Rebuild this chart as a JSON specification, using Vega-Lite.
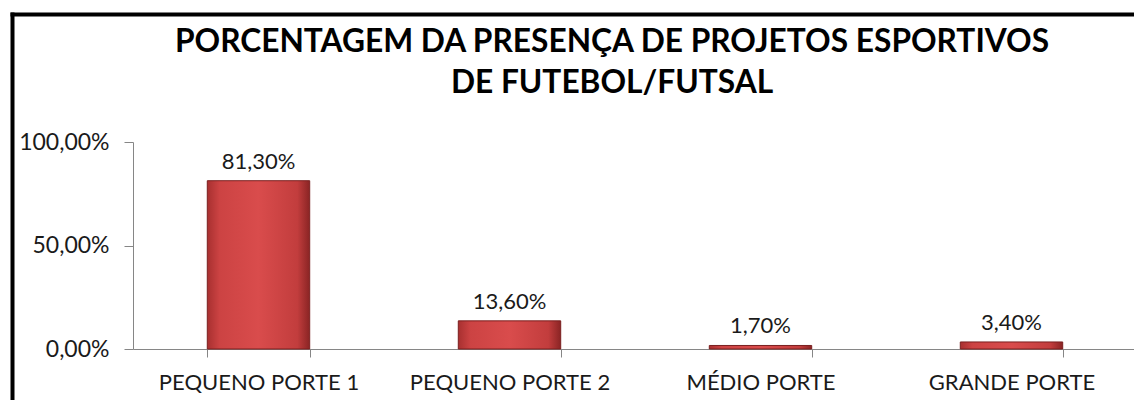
{
  "$schema": "https://vega.github.io/schema/vega-lite/v6.json",
  "autosize": "none",
  "width": 1122,
  "height": 386,
  "padding": {"left": 12, "top": 14, "right": 0, "bottom": 0},
  "background": "white",
  "config": {
    "locale": {"number": {"decimal": ",", "thousands": ".", "grouping": [3], "currency": ["R$ ", ""]}},
    "view": {"stroke": null},
    "font": "Lato"
  },
  "title": {
    "text": ["PORCENTAGEM DA PRESENÇA DE PROJETOS ESPORTIVOS", "DE FUTEBOL/FUTSAL"],
    "font": "Lato",
    "fontSize": 31.7,
    "fontWeight": "bold",
    "color": "black",
    "anchor": "middle",
    "lineHeight": 41,
    "offset": -86,
    "dx": 39
  },
  "data": {
    "values": [
      {"porte": "PEQUENO PORTE 1", "valor": 0.813},
      {"porte": "PEQUENO PORTE 2", "valor": 0.136},
      {"porte": "MÉDIO PORTE", "valor": 0.017},
      {"porte": "GRANDE PORTE", "valor": 0.034}
    ]
  },
  "layer": [
    {
      "encoding": {
        "x": {
          "field": "porte",
          "type": "nominal",
          "sort": null,
          "scale": {"range": [121, 1125], "paddingInner": 0.592, "paddingOuter": 0.296},
          "axis": {
            "title": null,
            "orient": "bottom",
            "offset": -51,
            "domainColor": "#868686",
            "tickColor": "#868686",
            "tickSize": 8,
            "tickBand": "extent",
            "labelFont": "Lato",
            "labelFontSize": 22,
            "labelLimit": 0,
            "labelColor": "#1a1a1a",
            "labelPadding": 15,
            "labelAngle": 0,
            "grid": false
          }
        },
        "y": {
          "field": "valor",
          "type": "quantitative",
          "scale": {"domain": [0, 1], "range": [335, 128]},
          "axis": {
            "title": null,
            "orient": "left",
            "offset": -121,
            "values": [0, 0.5, 1],
            "format": ".2%",
            "tickSize": 9,
            "labelPadding": 15,
            "grid": false,
            "domainColor": "#868686",
            "tickColor": "#868686",
            "labelFont": "Lato",
            "labelFontSize": 23,
            "labelColor": "#1a1a1a"
          }
        }
      },
      "layer": [
        {
          "mark": {
            "type": "bar",
            "stroke": "#7a1f1f",
            "strokeWidth": 1,
            "fill": {
              "gradient": "linear",
              "x1": 0, "x2": 1, "y1": 0, "y2": 0,
              "stops": [
                {"offset": 0, "color": "#a83030"},
                {"offset": 0.12, "color": "#cc4343"},
                {"offset": 0.5, "color": "#d94c4c"},
                {"offset": 0.88, "color": "#c23d3d"},
                {"offset": 1, "color": "#8a2424"}
              ]
            }
          }
        },
        {
          "mark": {
            "type": "text",
            "baseline": "alphabetic",
            "dy": -12,
            "font": "Lato",
            "fontSize": 22,
            "color": "#1a1a1a"
          },
          "encoding": {
            "text": {"field": "valor", "type": "quantitative", "format": ".2%"}
          }
        }
      ]
    },
    {
      "mark": {"type": "point", "opacity": 0},
      "encoding": {
        "x": {
          "field": "porte",
          "type": "nominal",
          "sort": null,
          "axis": {"orient": "top", "title": null, "labels": false, "ticks": false, "grid": false, "domainColor": "black", "domainWidth": 4, "domainCap": "square"}
        },
        "y": {
          "field": "valor",
          "type": "quantitative",
          "axis": {"orient": "left", "title": null, "labels": false, "ticks": false, "grid": false, "domainColor": "black", "domainWidth": 4, "domainCap": "square"}
        }
      }
    }
  ],
  "resolve": {"scale": {"x": "independent", "y": "independent"}}
}
